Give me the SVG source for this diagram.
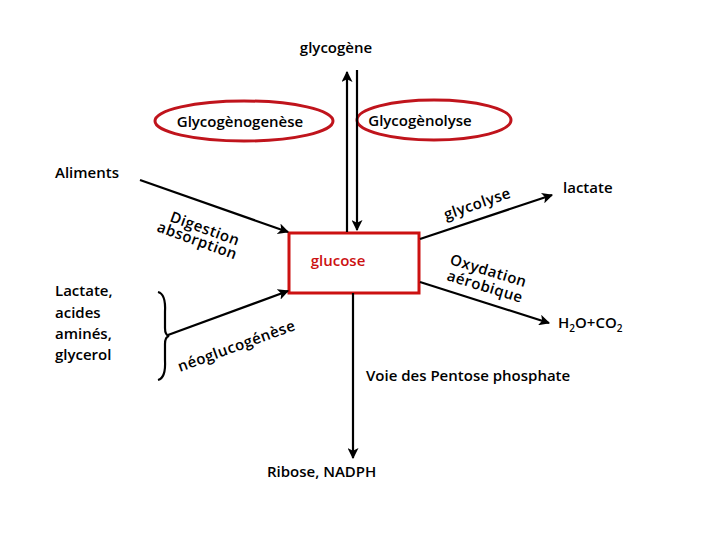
<svg xmlns="http://www.w3.org/2000/svg" width="720" height="540" viewBox="0 0 720 540">
<defs>
<marker id="ah" viewBox="0 0 10 10" refX="9" refY="5" markerWidth="11" markerHeight="11" markerUnits="userSpaceOnUse" orient="auto">
<path d="M0,0 L10,5 L0,10 L2.5,5 Z" fill="#000"/>
</marker>
<style>
text{font-family:"Open Sans","Liberation Sans",sans-serif;font-weight:600;font-size:15px;fill:#000}
.red{fill:#cc1111}
.rot{font-size:15px;letter-spacing:0.5px}
.ln{stroke:#000;stroke-width:2.2;fill:none}
.ell{fill:none;stroke:#c0141c;stroke-width:3}
</style>
</defs>
<rect width="720" height="540" fill="#fff"/>
<g id="glycogene"><text x="336" y="53" text-anchor="middle">glycogène</text></g>
<g id="glycogenogenese"><ellipse class="ell" cx="244" cy="121" rx="89" ry="20"/><text x="240" y="127" text-anchor="middle">Glycogènogenèse</text></g>
<g id="glycogenolyse"><ellipse class="ell" cx="434" cy="120" rx="77" ry="20"/><text x="420" y="126" text-anchor="middle">Glycogènolyse</text></g>
<g id="aliments"><text x="55" y="178">Aliments</text></g>
<g id="glucose"><rect x="289" y="233" width="130" height="60" fill="#fff" stroke="#cc1111" stroke-width="3"/><text class="red" x="338" y="266" text-anchor="middle">glucose</text></g>
<g id="lactate"><text x="563" y="193">lactate</text></g>
<g id="h2oco2"><text x="558" y="328">H<tspan font-size="10" dy="4">2</tspan><tspan dy="-4">O+CO</tspan><tspan font-size="10" dy="4">2</tspan></text></g>
<g id="sources"><text x="55" y="296">Lactate,</text><text x="55" y="318">acides</text><text x="55" y="339">aminés,</text><text x="55" y="360">glycerol</text>
<path class="ln" d="M158,292 Q166,294 165,312 L165,328 Q165,335 169,336 Q165,337 165,344 L165,360 Q166,378 158,380"/></g>
<g id="ribose"><text x="267" y="477">Ribose, NADPH</text></g>
<g id="pentose"><text x="366" y="381">Voie des Pentose phosphate</text></g>
<g id="connectors">
<line class="ln" x1="347" y1="232" x2="347" y2="72" marker-end="url(#ah)"/>
<line class="ln" x1="357" y1="70" x2="357" y2="230" marker-end="url(#ah)"/>
<line class="ln" x1="140" y1="180" x2="288" y2="232" marker-end="url(#ah)"/>
<line class="ln" x1="420" y1="239" x2="552" y2="195" marker-end="url(#ah)"/>
<line class="ln" x1="420" y1="282" x2="549" y2="323" marker-end="url(#ah)"/>
<line class="ln" x1="168" y1="335" x2="288" y2="291" marker-end="url(#ah)"/>
<line class="ln" x1="353" y1="293" x2="353" y2="458" marker-end="url(#ah)"/>
<text class="rot" transform="translate(169,221) rotate(20)">Digestion</text>
<text class="rot" transform="translate(156,231) rotate(20)">absorption</text>
<text class="rot" transform="translate(446,220) rotate(-19)">glycolyse</text>
<text class="rot" transform="translate(449,264) rotate(17)">Oxydation</text>
<text class="rot" transform="translate(446,280) rotate(17)">aérobique</text>
<text class="rot" transform="translate(180,372) rotate(-20)">néoglucogénèse</text>
</g>
</svg>
